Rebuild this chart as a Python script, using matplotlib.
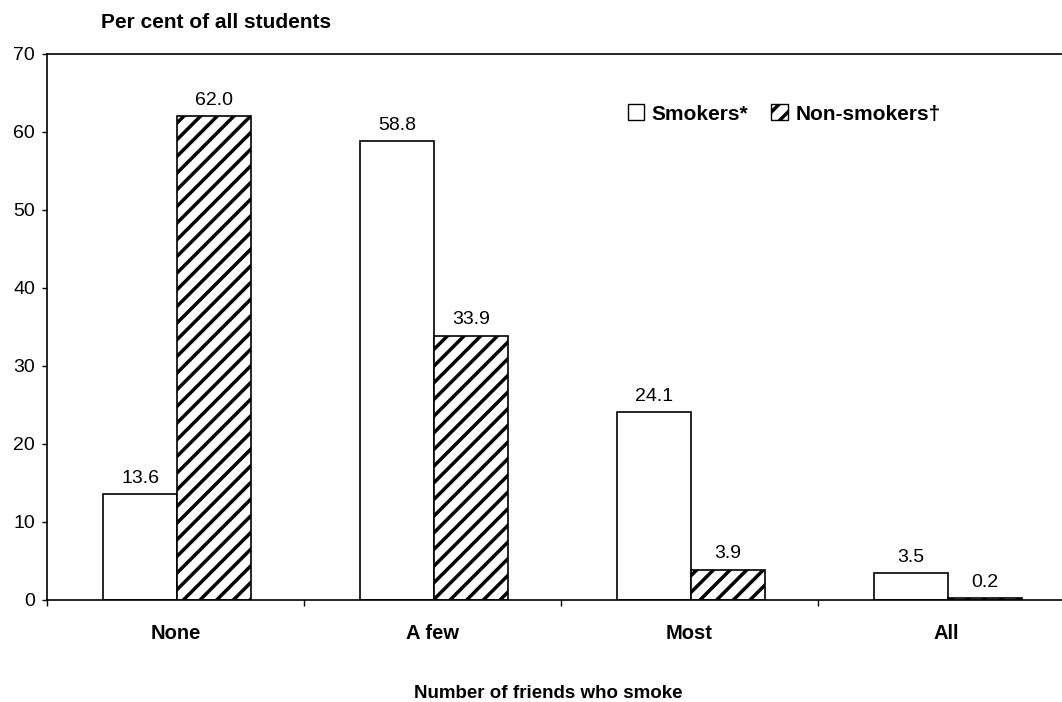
import numpy as np
import matplotlib
matplotlib.use("Agg")
import matplotlib.pyplot as plt
from matplotlib.patches import Patch

plt.rcParams['font.family'] = ['Liberation Sans', 'DejaVu Sans']
plt.rcParams['hatch.linewidth'] = 2.5

categories = ['None', 'A few', 'Most', 'All']
smokers = [13.6, 58.8, 24.1, 3.5]
non_smokers = [62.0, 33.9, 3.9, 0.2]

fig = plt.figure(figsize=(10.62, 7.02), dpi=100)
ax = fig.add_axes([47/1062, 102/702, 1028/1062, 546/702])

x = np.arange(len(categories))
w = 0.288
b1 = ax.bar(x + 0.218, smokers, width=w, align='edge', color='white',
            edgecolor='black', linewidth=1.2, label='Smokers*')
b2 = ax.bar(x + 0.218 + w, non_smokers, width=w, align='edge', color='white',
            edgecolor='black', hatch='//', linewidth=1.2, label='Non-smokers\u2020')

# value labels above each bar
for bars, vals in ((b1, smokers), (b2, non_smokers)):
    for r, v in zip(bars, vals):
        ax.annotate(f'{v:.1f}', (r.get_x() + r.get_width()/2, v),
                    xytext=(0, 8), textcoords='offset points',
                    ha='center', va='baseline', fontsize=14)

ax.set_xlim(0, 4)
ax.set_ylim(0, 70)
ax.set_yticks(range(0, 71, 10))
ax.tick_params(axis='y', direction='out', length=3.6, width=1, labelsize=14, pad=5)

ax.set_xticks(range(0, 5))
ax.set_xticklabels([])
ax.tick_params(axis='x', which='major', direction='out', length=4.5, width=1)
ax.set_xticks(x + 0.5, minor=True)
ax.set_xticklabels(categories, minor=True, fontweight='bold', fontsize=14.5)
ax.tick_params(axis='x', which='minor', length=0, pad=17)

for s in ax.spines.values():
    s.set_linewidth(1.2)

ax.legend(handles=[Patch(facecolor='white', edgecolor='black', label='Smokers*'),
                   Patch(facecolor='white', edgecolor='black', hatch='//', label='Non-smokers\u2020')],
          loc='center left', bbox_to_anchor=(0.565, 0.890), ncol=2, frameon=False,
          borderpad=0, borderaxespad=0,
          handlelength=0.8, handleheight=0.8, handletextpad=0.35, columnspacing=1.1,
          prop={'weight': 'bold', 'size': 15})

fig.text(101/1062, 1 - 28/702, 'Per cent of all students', fontweight='bold',
         fontsize=15, ha='left', va='baseline')
fig.text(548/1062, 1 - 698/702, 'Number of friends who smoke', fontweight='bold',
         fontsize=13.5, ha='center', va='baseline')

fig.savefig('out.png', dpi=100)
